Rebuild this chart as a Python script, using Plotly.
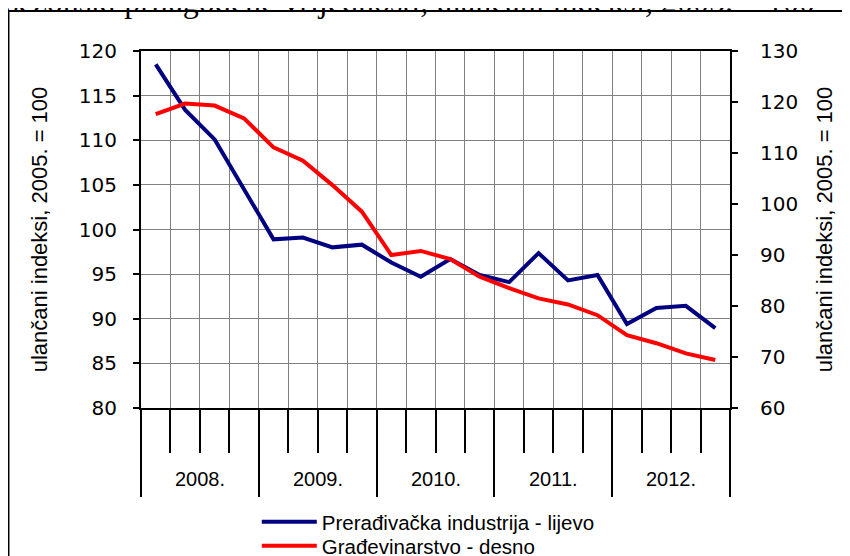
import plotly.graph_objects as go

years = ["2008.", "2009.", "2010.", "2011.", "2012."]
quarters = [f"{y[:4]}Q{q}" for y in years for q in range(1, 5)]

preradjivacka = [118.5, 113.4, 110.1, 104.6, 98.9, 99.1, 98.0, 98.3, 96.3, 94.7,
                 96.7, 94.9, 94.1, 97.35, 94.3, 94.9, 89.4, 91.2, 91.45, 88.95]
gradjevinarstvo = [117.6, 119.7, 119.3, 116.8, 111.1, 108.5, 103.7, 98.5, 90.0, 90.8,
                   89.2, 85.75, 83.5, 81.5, 80.3, 78.2, 74.3, 72.7, 70.7, 69.4]

name_left = "Prerađivačka industrija - lijevo"
name_right = "Građevinarstvo - desno"
axis_title = "ulančani indeksi, 2005. = 100"
top_text = "sezonski prilagođene vrijednosti, ulančani indeksi, 2005. = 100"

FONT = "Liberation Sans, Arial, sans-serif"
TICKFONT = "DejaVu Sans, Arial, sans-serif"

fig = go.Figure()
fig.add_trace(go.Scatter(x=quarters, y=preradjivacka, name=name_left, mode="lines",
                         line=dict(color="#000080", width=4), xaxis="x", yaxis="y",
                         legend="legend"))
fig.add_trace(go.Scatter(x=quarters, y=gradjevinarstvo, name=name_right, mode="lines",
                         line=dict(color="#FF0000", width=4), xaxis="x", yaxis="y2",
                         legend="legend2"))
fig.add_trace(go.Scatter(x=years, y=[None] * len(years), mode="lines", showlegend=False,
                         hoverinfo="skip", xaxis="x2", yaxis="y"))

legend_common = dict(xanchor="left", yanchor="middle", font=dict(family=FONT, size=20.5),
                     bgcolor="rgba(0,0,0,0)", itemwidth=55)

fig.update_layout(
    width=842, height=548,
    margin=dict(l=133, r=120, t=43, b=148, autoexpand=False),
    paper_bgcolor="white", plot_bgcolor="white",
    font=dict(family=FONT, size=19, color="black"),
    showlegend=True,
    legend=dict(x=0.1966, y=-0.319, **legend_common),
    legend2=dict(x=0.1966, y=-0.3866, **legend_common),
    xaxis=dict(type="category", categoryorder="array", categoryarray=quarters,
               range=[-0.5, len(quarters) - 0.5], tickson="boundaries",
               ticks="outside", ticklen=43, tickwidth=1.5, tickcolor="black",
               showticklabels=False, showgrid=True, gridcolor="#808080", gridwidth=1.3,
               showline=True, linecolor="black", linewidth=2, mirror=True, zeroline=False),
    xaxis2=dict(type="category", categoryorder="array", categoryarray=years,
                range=[-0.5, len(years) - 0.5], tickson="boundaries",
                overlaying="x", anchor="y", side="bottom",
                ticks="outside", ticklen=88, tickwidth=1.5, tickcolor="black",
                showticklabels=False, showgrid=False, showline=False, zeroline=False),
    yaxis=dict(range=[80, 120], dtick=5, ticks="outside", ticklen=6, tickwidth=1.5,
               tickcolor="black", showgrid=True, gridcolor="#808080", gridwidth=1.3,
               showline=True, linecolor="black", linewidth=2, zeroline=False,
               tickfont=dict(family=TICKFONT, size=20), ticklabelstandoff=12,
               title=dict(text=axis_title, font=dict(family=FONT, size=22), standoff=25)),
    yaxis2=dict(range=[60, 130], dtick=10, overlaying="y", side="right", anchor="x",
                ticks="outside", ticklen=6, tickwidth=1.5, tickcolor="black",
                showgrid=False, showline=True, linecolor="black", linewidth=2, zeroline=False,
                tickfont=dict(family=TICKFONT, size=20), ticklabelstandoff=18,
                title=dict(text=axis_title, font=dict(family=FONT, size=22), standoff=19)),
    shapes=[dict(type="rect", xref="paper", yref="paper",
                 x0=-0.225, x1=1.25, y0=-0.46, y1=1.112,
                 line=dict(color="black", width=2), fillcolor="rgba(0,0,0,0)", layer="below")],
    annotations=[dict(text=top_text, xref="paper", yref="paper", x=-0.232, y=1.1387,
                      xanchor="left", yanchor="middle", showarrow=False,
                      font=dict(family="Liberation Serif, Times New Roman, serif", size=32))]
    + [dict(text=y, xref="x2", yref="paper", x=i, y=-0.199, xanchor="center",
            yanchor="middle", showarrow=False, font=dict(family=FONT, size=20))
       for i, y in enumerate(years)],
)

fig.write_html("out.html")
